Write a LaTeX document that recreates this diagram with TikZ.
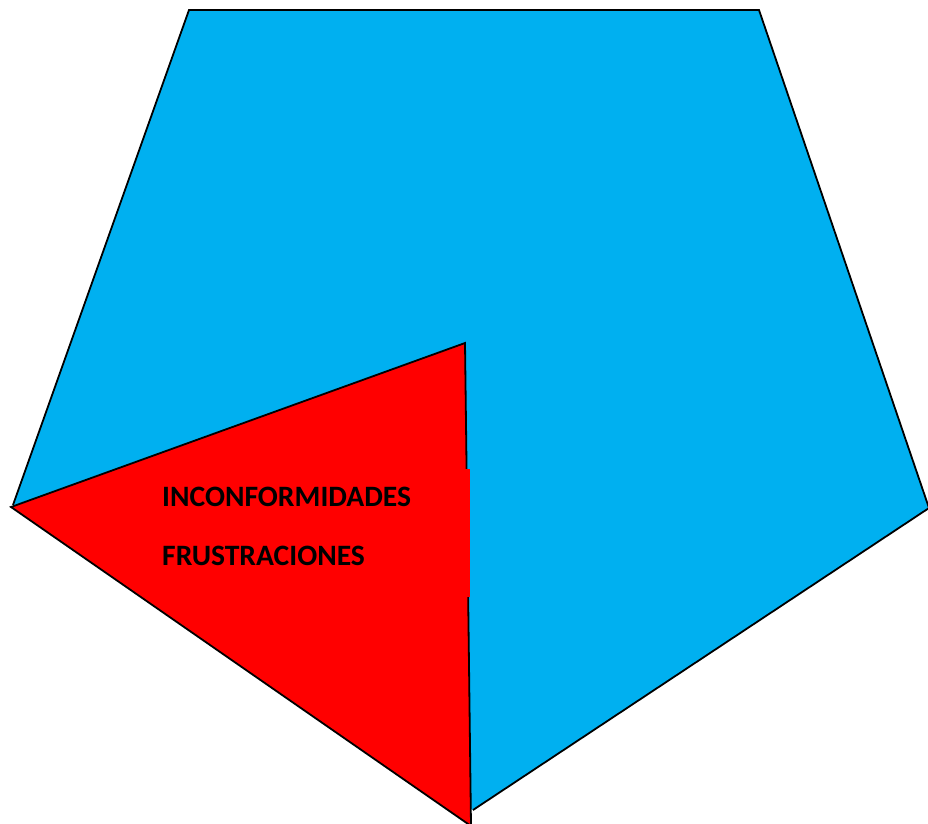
\documentclass[tikz,border=0pt]{standalone}
\usepackage{fontspec}
\setmainfont{Carlito}
\definecolor{pentblue}{RGB}{0,176,240}
\begin{document}
\begin{tikzpicture}[x=1pt, y=-1pt,
  outline/.style={draw=black, line width=1.8pt, line join=miter},
  lbl/.style={anchor=base west, inner sep=0pt, font=\bfseries\fontsize{29.6}{35}\selectfont}]
\useasboundingbox (0,0) rectangle (928,823);
% pentagon
\coordinate (ptl) at (189,10);
\coordinate (ptr) at (759,10);
\coordinate (pr) at (929,508);
\coordinate (pb) at (473,810);
\coordinate (pl) at (13,505);
\fill[pentblue] (ptl) -- (ptr) -- (pr) -- (pb) -- (pl) -- cycle;
\draw[outline] (pl) -- (ptl) -- (ptr) -- (pr) -- (pb);
% triangle
\coordinate (tl) at (11,507);
\coordinate (tt) at (465,343);
\coordinate (tb) at (471,826);
\draw[outline, fill=red] (tl) -- (tt) -- (tb) -- cycle;
% text box
\fill[red] (150,469) rectangle (469.5,597);
\node[lbl] (inconf) at (162,506) {INCONFORMIDADES};
\node[lbl] (frust) at (162,565) {FRUSTRACIONES};
\end{tikzpicture}
\end{document}
